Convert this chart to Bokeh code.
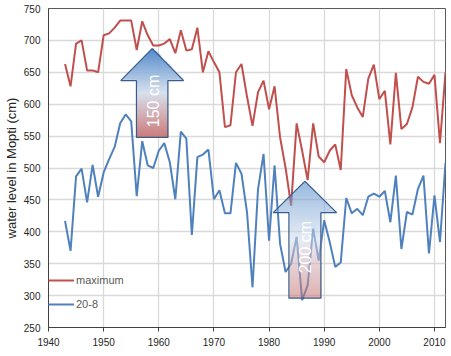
import numpy as np
from bokeh.plotting import figure
from bokeh.models import Range1d, FixedTicker
from bokeh.core.properties import value
from bokeh.embed import file_html
from bokeh.resources import INLINE

# ---------------- data ----------------
years = list(range(1943, 2013))
maximum = [663, 628, 695, 700, 653, 653, 650, 708, 711, 720,
           731, 731, 731, 685, 730, 708, 692, 692, 695, 702,
           680, 716, 684, 686, 720, 650, 683, 666, 650, 564,
           567, 650, 663, 612, 566, 619, 637, 592, 628, 548,
           500, 441, 570, 527, 481, 570, 518, 509, 527, 537,
           497, 655, 614, 595, 580, 640, 662, 608, 621, 537,
           649, 561, 569, 595, 643, 635, 632, 646, 539, 650]
level_20_8 = [417, 370, 487, 499, 446, 505, 455, 493, 514, 533,
              570, 584, 573, 456, 542, 504, 500, 527, 539, 509,
              451, 557, 546, 395, 517, 521, 529, 451, 465, 429,
              429, 508, 491, 431, 313, 467, 522, 386, 504, 381,
              337, 350, 392, 293, 316, 405, 355, 418, 384, 345,
              352, 453, 429, 436, 426, 455, 460, 455, 464, 415,
              488, 373, 431, 427, 467, 488, 366, 457, 384, 508]
x_ticks = [1940, 1950, 1960, 1970, 1980, 1990, 2000, 2010]
y_ticks = [250, 300, 350, 400, 450, 500, 550, 600, 650, 700, 750]

# annotation arrows (data units)
arrow_labels = ["150 cm", "200 cm"]
arrow_cx = [1958.8, 1986.5]
arrow_tip = [687, 479]
arrow_head_base = [637, 430]
arrow_half_head = [5.7, 5.75]
arrow_half_shaft = [2.85, 2.9]
arrow_bottom = [548, 296]
arrow_alpha = [0.92, 0.55]
label_x = [1959.1, 1986.7]
label_y = [605, 376]

RED = "#C0504D"
BLUE = "#4F81BD"
FONT = "Liberation Sans"

p = figure(width=451, height=356, output_backend="svg", toolbar_location=None,
           x_range=Range1d(1940, 2012), y_range=Range1d(250, 750),
           min_border_left=44, min_border_right=6, min_border_top=8,
           min_border_bottom=29, background_fill_color="white",
           border_fill_color="white")

p.outline_line_color = "#595959"
p.outline_line_width = 1

for ax in (p.xaxis[0], p.yaxis[0]):
    ax.axis_line_color = "#404040"
    ax.major_label_text_font = FONT
    ax.major_label_text_font_size = "10px"
    ax.major_label_text_color = "#262626"
    ax.minor_tick_line_color = None
    ax.major_tick_line_color = "#404040"

p.xaxis.ticker = FixedTicker(ticks=x_ticks)
p.yaxis.ticker = FixedTicker(ticks=y_ticks)
p.xaxis.major_tick_out = 4
p.xaxis.major_tick_in = 0
p.xaxis.major_label_standoff = 6
p.yaxis.major_tick_out = 0
p.yaxis.major_tick_in = 0
p.yaxis.major_label_standoff = 8
p.yaxis.axis_label = "water level in Mopti (cm)"
p.yaxis.axis_label_text_font = FONT
p.yaxis.axis_label_text_font_size = "13px"
p.yaxis.axis_label_text_font_style = "normal"
p.yaxis.axis_label_text_color = "#262626"
p.yaxis.axis_label_standoff = 2

p.xgrid.grid_line_color = "#D9D9D9"
p.ygrid.grid_line_color = "#D9D9D9"
p.xgrid.grid_line_width = 1.3
p.ygrid.grid_line_width = 1.3

p.line(years, maximum, line_color=RED, line_width=2, legend_label="maximum")
p.line(years, level_20_8, line_color=BLUE, line_width=2, legend_label="20-8")


# gradient-filled block arrows
def lerp(c0, c1, t):
    return c0 + (c1 - c0) * t


stops_c = [np.array([200, 112, 110]), np.array([212, 222, 237]), np.array([66, 128, 198])]

for i in range(len(arrow_labels)):
    cx, tip, hb = arrow_cx[i], arrow_tip[i], arrow_head_base[i]
    hh, hs, bot = arrow_half_head[i], arrow_half_shaft[i], arrow_bottom[i]
    nx, ny = 160, 320
    x0, x1 = cx - hh, cx + hh
    xs = x0 + (np.arange(nx) + 0.5) * (x1 - x0) / nx
    ys = bot + (np.arange(ny) + 0.5) * (tip - bot) / ny
    X, Y = np.meshgrid(xs, ys)
    half = np.where(Y <= hb, hs, hh * (tip - Y) / (tip - hb))
    inside = np.abs(X - cx) <= half
    t = (Y - bot) / (tip - bot)
    rgb = np.zeros((ny, nx, 3))
    lo = t <= 0.5
    for k in range(3):
        rgb[..., k] = np.where(lo, lerp(stops_c[0][k], stops_c[1][k], t / 0.5),
                               lerp(stops_c[1][k], stops_c[2][k], (t - 0.5) / 0.5))
    img = np.zeros((ny, nx), dtype=np.uint32)
    view = img.view(dtype=np.uint8).reshape((ny, nx, 4))
    view[..., 0] = rgb[..., 0].astype(np.uint8)
    view[..., 1] = rgb[..., 1].astype(np.uint8)
    view[..., 2] = rgb[..., 2].astype(np.uint8)
    view[..., 3] = (inside * arrow_alpha[i] * 255).astype(np.uint8)
    p.image_rgba(image=[img], x=x0, y=bot, dw=x1 - x0, dh=tip - bot)

    px = [cx - hs, cx + hs, cx + hs, cx + hh, cx, cx - hh, cx - hs, cx - hs]
    py = [bot, bot, hb, hb, tip, hb, hb, bot]
    p.patch(px, py, fill_alpha=0, line_color="#385D8A", line_width=1.2)

p.text(x=label_x, y=label_y, text=arrow_labels, angle=np.pi / 2,
       text_align="center", text_baseline="middle", text_color="white",
       text_font=value(FONT), text_font_size="16px")

lg = p.legend[0]
lg.location = (0, 15)
lg.margin = 0
lg.padding = 7
lg.spacing = 8
lg.glyph_width = 26
lg.glyph_height = 16
lg.label_standoff = 2
lg.label_text_font = FONT
lg.label_text_font_size = "11px"
lg.label_text_color = "#595959"
lg.background_fill_alpha = 0
lg.border_line_color = None

open("out.html", "w").write(file_html(p, INLINE))
